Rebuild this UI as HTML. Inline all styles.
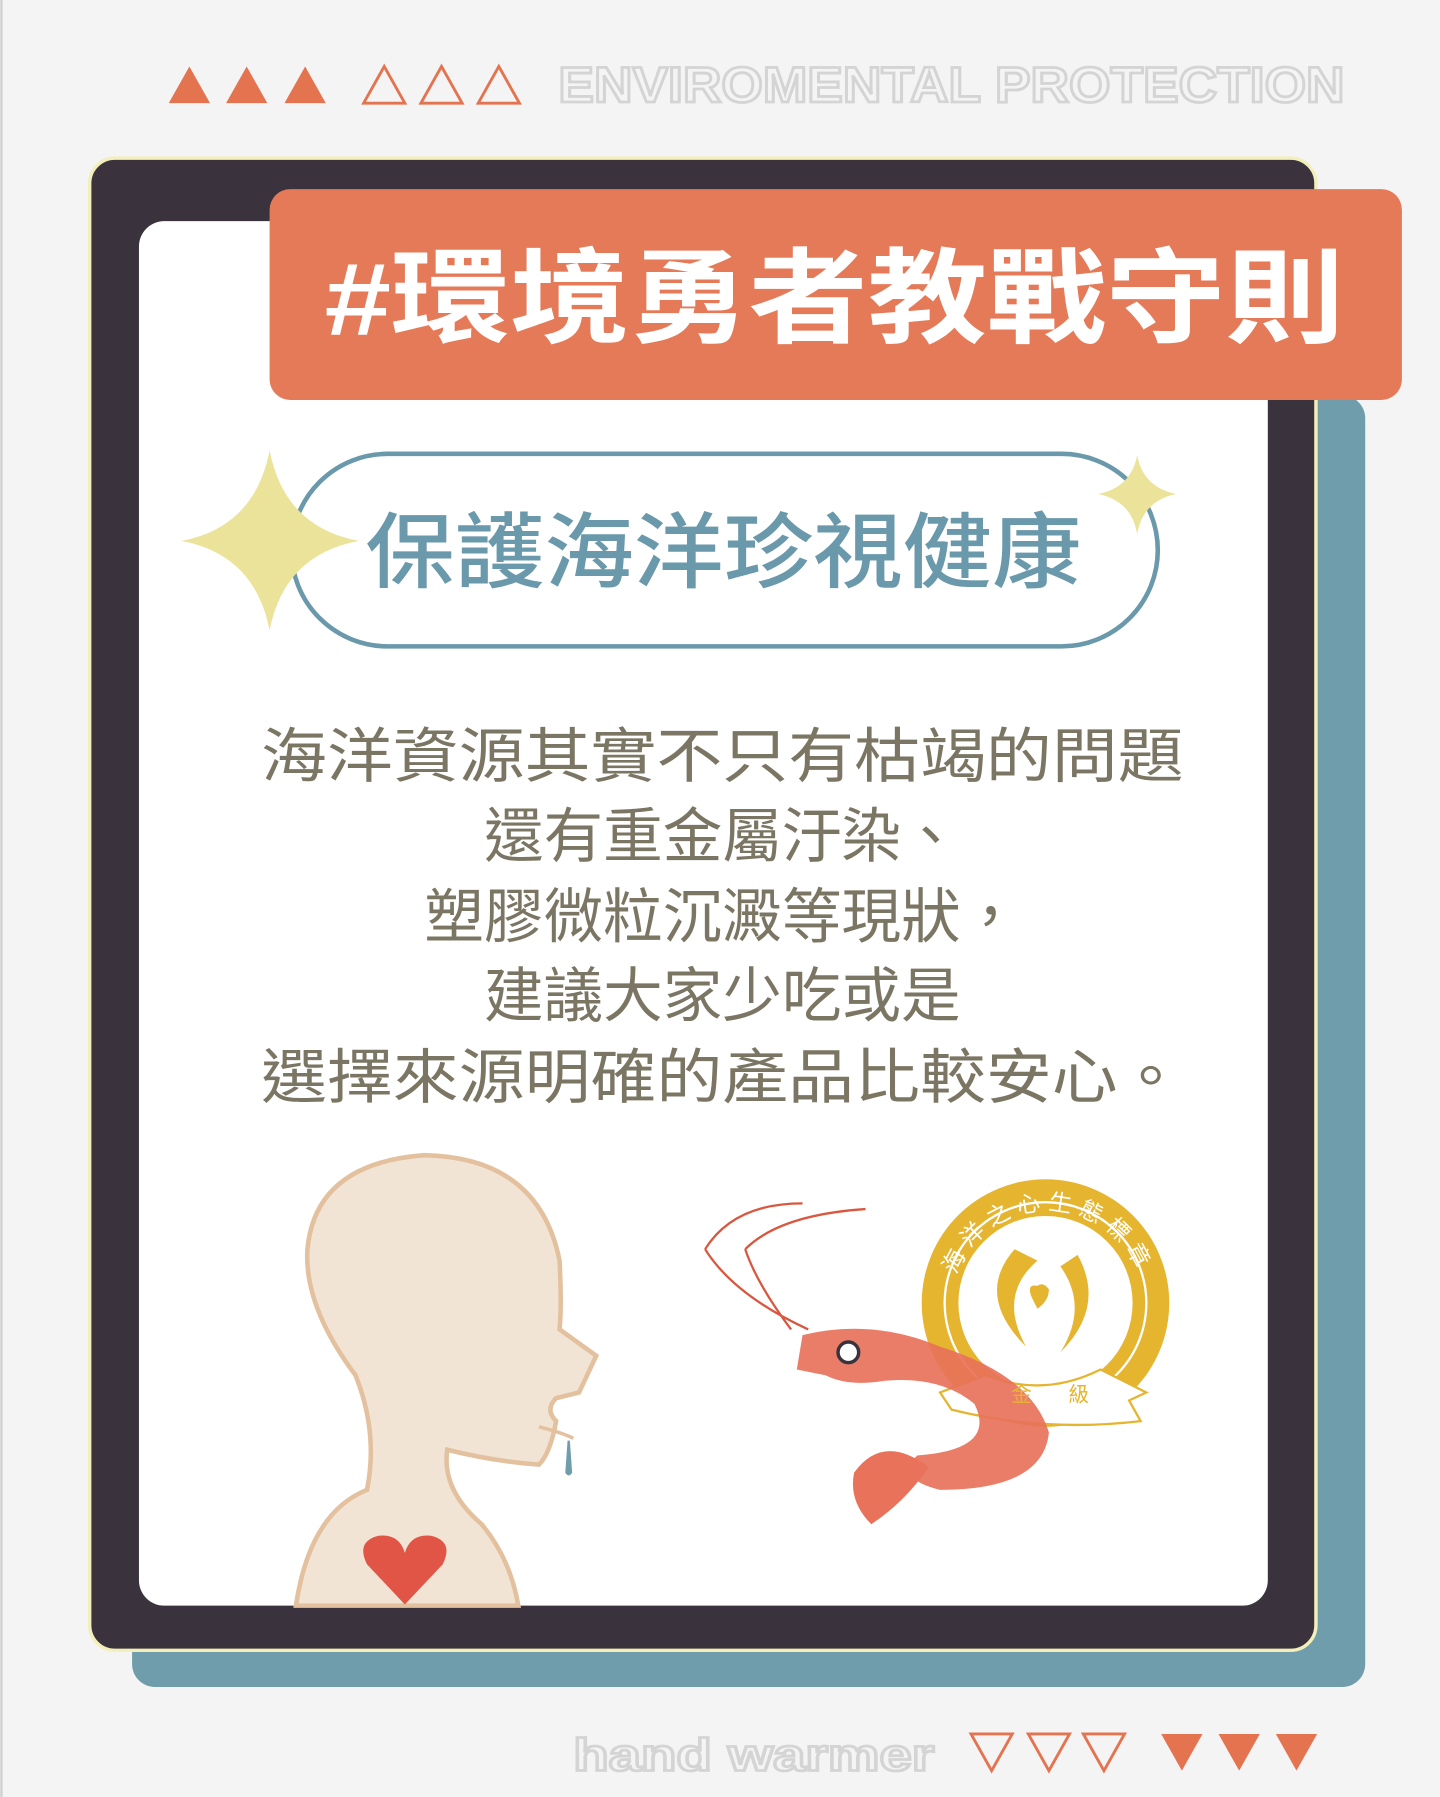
<!DOCTYPE html>
<html><head><meta charset="utf-8"><style>
html,body{margin:0;padding:0;background:#f4f4f4;}
svg{display:block;}
text{font-family:"Liberation Sans","Noto Sans CJK TC",sans-serif;}
</style></head><body>
<svg width="1440" height="1797" viewBox="0 0 1256 1568" xmlns="http://www.w3.org/2000/svg">
<defs><path id="badgearc" d="M830,1140 A84,84 0 0,1 998,1140"/></defs>
<rect x="0" y="0" width="1256" height="1568" fill="#f4f4f4"/>
<line x1="1" y1="0" x2="1" y2="1568" stroke="#cfcfcf" stroke-width="2"/>
<g>
<polygon points="147,90 165,58 183,90" fill="#e4734f"/>
<polygon points="197,90 215,58 233,90" fill="#e4734f"/>
<polygon points="248,90 266,58 284,90" fill="#e4734f"/>
<polygon points="317,90 335,58 353,90" fill="none" stroke="#e4734f" stroke-width="2.5"/>
<polygon points="367,90 385,58 403,90" fill="none" stroke="#e4734f" stroke-width="2.5"/>
<polygon points="417,90 435,58 453,90" fill="none" stroke="#e4734f" stroke-width="2.5"/>
</g>
<text x="487" y="89" font-size="44" font-weight="bold" fill="#f4f4f4" stroke="#d4d4d4" stroke-width="2.5" textLength="686" lengthAdjust="spacingAndGlyphs">ENVIROMENTAL PROTECTION</text>
<rect x="115" y="345" width="1076" height="1127" rx="20" fill="#6f9dab"/>
<rect x="78" y="138" width="1070" height="1302" rx="22" fill="#3a323d" stroke="#f2efbb" stroke-width="3"/>
<rect x="121" y="193" width="985" height="1208" rx="22" fill="#ffffff"/>
<rect x="235" y="165" width="988" height="184" rx="18" fill="#e57a58"/>
<text x="728" y="292" text-anchor="middle" font-size="90" font-weight="bold" fill="#ffffff" textLength="890" lengthAdjust="spacingAndGlyphs">#環境勇者教戰守則</text>
<rect x="254" y="396" width="756" height="168" rx="84" fill="none" stroke="#6a99ab" stroke-width="4"/>
<path d="M235,393 Q248,460 313,472 Q248,484 235,550 Q222,484 158,472 Q222,460 235,393Z" fill="#ece39a"/>
<path d="M992,397 Q997,425 1026,431 Q997,437 992,466 Q987,437 958,431 Q987,425 992,397Z" fill="#ece39a"/>
<text x="631" y="507" text-anchor="middle" font-size="72" font-weight="500" fill="#6a99ab" textLength="625" lengthAdjust="spacingAndGlyphs">保護海洋珍視健康</text>
<g font-size="52" fill="#7b7563" text-anchor="middle">
<text x="630" y="678" textLength="805" lengthAdjust="spacingAndGlyphs">海洋資源其實不只有枯竭的問題</text>
<text x="630" y="748">還有重金屬汙染、</text>
<text x="630" y="818">塑膠微粒沉澱等現狀，</text>
<text x="630" y="887">建議大家少吃或是</text>
<text x="630" y="958" textLength="805" lengthAdjust="spacingAndGlyphs">選擇來源明確的產品比較安心。</text>
</g>
<g>
<path d="M258,1401 Q270,1320 320,1300 Q330,1250 310,1200 Q265,1140 268,1090 Q275,1015 370,1008 Q470,1010 488,1100 Q490,1140 488,1160 L520,1183 L505,1215 L485,1220 Q475,1230 485,1240 Q480,1268 470,1278 Q430,1275 390,1265 Q385,1300 420,1330 Q445,1360 452,1401Z" fill="#f2e4d4" stroke="#e3c19f" stroke-width="4"/>
<path d="M470,1245 Q490,1250 500,1255" fill="none" stroke="#e3c19f" stroke-width="3"/>
<path d="M495,1257 L493,1285 Q496,1290 499,1285 L497,1257Z" fill="#6f9dab"/>
<path d="M353,1400 L320,1365 Q310,1345 330,1340 Q348,1338 353,1355 Q358,1338 376,1340 Q396,1345 386,1365Z" fill="#e05545"/>
</g>
<g>
<circle cx="912" cy="1137" r="108" fill="#e6b530"/>
<circle cx="912" cy="1137" r="76" fill="#ffffff"/>
<circle cx="912" cy="1137" r="88" fill="none" stroke="#ffffff" stroke-width="2"/>
<path d="M885,1090 Q850,1130 895,1175 Q870,1130 905,1100Z" fill="#e6b530"/>
<path d="M940,1095 Q965,1140 925,1180 Q950,1140 925,1105Z" fill="#e6b530"/>
<path d="M900,1132 Q895,1120 905,1122 Q910,1118 915,1125 Q915,1135 905,1142Z" fill="#e6b530"/>
<text font-size="20" fill="#ffffff" letter-spacing="6"><textPath href="#badgearc" startOffset="50%" text-anchor="middle">海洋之心生態標章</textPath></text>
<path d="M820,1215 L860,1200 Q910,1220 960,1195 L1000,1215 L985,1222 L995,1240 Q910,1250 830,1230Z" fill="#ffffff" stroke="#e6b530" stroke-width="2"/>
<path d="M615,1090 Q640,1050 700,1050 M650,1090 Q680,1060 755,1055 M615,1090 Q640,1130 705,1160 M650,1090 Q660,1120 690,1160" fill="none" stroke="#d9573f" stroke-width="2"/>
<path d="M700,1165 Q760,1150 820,1175 Q900,1200 915,1250 Q910,1300 820,1300 Q780,1290 800,1270 Q870,1265 850,1225 Q820,1200 770,1205 Q740,1210 720,1200 L695,1195 Z" fill="#e8725a" opacity="0.92"/>
<path d="M745,1285 Q770,1250 810,1280 Q790,1310 760,1330 Q740,1310 745,1285Z" fill="#e8725a"/>
<circle cx="740" cy="1180" r="9" fill="#ffffff" stroke="#3a323d" stroke-width="3"/>
<text x="882" y="1223" font-size="18" fill="#e6b530">金</text>
<text x="932" y="1223" font-size="18" fill="#e6b530">級</text>
</g>
<text x="500" y="1545" font-size="40" font-weight="bold" fill="#f4f4f4" stroke="#d4d4d4" stroke-width="2.5" textLength="315" lengthAdjust="spacingAndGlyphs">hand warmer</text>
<g>
<polygon points="847,1513 865,1545 883,1513" fill="none" stroke="#e4734f" stroke-width="2.5"/>
<polygon points="897,1513 915,1545 933,1513" fill="none" stroke="#e4734f" stroke-width="2.5"/>
<polygon points="945,1513 963,1545 981,1513" fill="none" stroke="#e4734f" stroke-width="2.5"/>
<polygon points="1013,1513 1031,1545 1049,1513" fill="#e4734f"/>
<polygon points="1063,1513 1081,1545 1099,1513" fill="#e4734f"/>
<polygon points="1113,1513 1131,1545 1149,1513" fill="#e4734f"/>
</g>
</svg>
</body></html>
